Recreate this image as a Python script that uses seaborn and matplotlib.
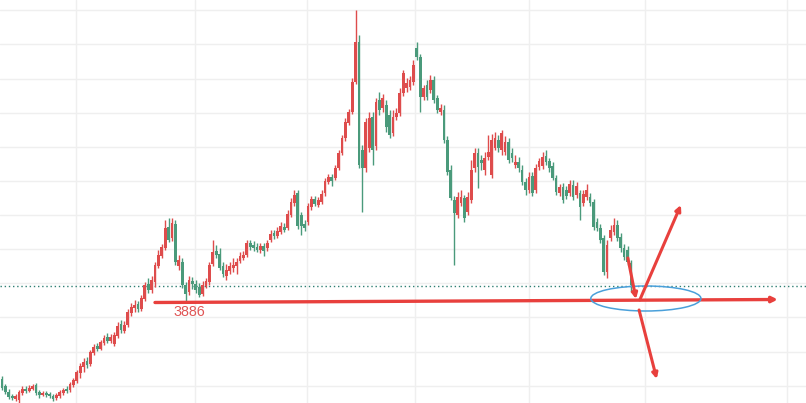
import numpy as np
import matplotlib
matplotlib.use("Agg")
import matplotlib.pyplot as plt
from matplotlib.patches import Ellipse
import seaborn as sns

# daily candles (red = up, green = down)
opens = [3652, 3631, 3613, 3601, 3592, 3589, 3610, 3622, 3616, 3622,
         3634, 3613, 3604, 3610, 3607, 3601, 3595, 3601, 3610, 3622,
         3619, 3634, 3646, 3670, 3688, 3706, 3697, 3730, 3751, 3742,
         3760, 3778, 3766, 3757, 3781, 3817, 3796, 3814, 3850, 3865,
         3877, 3862, 3892, 3937, 3919, 3943, 3991, 4021, 4045, 4108,
         4075, 4117, 3991, 4003, 3934, 3913, 3946, 3937, 3928, 3907,
         3931, 3943, 3997, 4036, 4027, 3991, 3961, 3976, 3985, 3991,
         4006, 4015, 4024, 4060, 4054, 4048, 4039, 4051, 4045, 4069,
         4090, 4081, 4093, 4108, 4105, 4144, 4180, 4210, 4144, 4117,
         4123, 4168, 4192, 4174, 4183, 4210, 4243, 4258, 4255, 4285,
         4330, 4375, 4420, 4453, 4543, 4663, 4339, 4285, 4345, 4438,
         4351, 4489, 4465, 4474, 4444, 4390, 4438, 4450, 4510, 4525,
         4528, 4543, 4645, 4618, 4498, 4534, 4519, 4549, 4495, 4453,
         4459, 4369, 4279, 4189, 4144, 4180, 4195, 4153, 4189, 4285,
         4330, 4309, 4279, 4318, 4264, 4345, 4369, 4339, 4333, 4363,
         4330, 4294, 4303, 4279, 4243, 4219, 4261, 4219, 4288, 4291,
         4321, 4306, 4291, 4255, 4210, 4228, 4219, 4210, 4234, 4204,
         4210, 4180, 4198, 4198, 4183, 4123, 4105, 4075, 3973, 4075,
         4093, 4114, 4078, 4045, 4039, 4000]
closes = [3625, 3613, 3598, 3595, 3601, 3613, 3622, 3616, 3625, 3631,
          3610, 3604, 3610, 3604, 3601, 3592, 3604, 3613, 3619, 3616,
          3637, 3649, 3673, 3691, 3703, 3694, 3733, 3748, 3742, 3763,
          3775, 3766, 3778, 3784, 3811, 3799, 3814, 3853, 3868, 3874,
          3862, 3895, 3934, 3919, 3949, 3994, 4024, 4048, 4105, 4069,
          4120, 4003, 4009, 3934, 3907, 3949, 3937, 3919, 3904, 3934,
          3946, 3994, 4033, 4024, 3985, 3967, 3979, 3991, 3994, 4003,
          4021, 4024, 4060, 4048, 4045, 4039, 4051, 4036, 4060, 4087,
          4081, 4096, 4111, 4099, 4147, 4183, 4204, 4111, 4111, 4105,
          4171, 4192, 4177, 4189, 4207, 4246, 4258, 4246, 4285, 4330,
          4375, 4423, 4453, 4543, 4663, 4294, 4285, 4423, 4435, 4339,
          4483, 4459, 4495, 4408, 4384, 4438, 4450, 4510, 4570, 4540,
          4549, 4594, 4618, 4498, 4525, 4498, 4549, 4489, 4459, 4465,
          4369, 4273, 4195, 4150, 4198, 4198, 4135, 4198, 4279, 4330,
          4288, 4300, 4315, 4333, 4369, 4375, 4345, 4390, 4363, 4309,
          4315, 4303, 4285, 4243, 4219, 4258, 4210, 4285, 4306, 4318,
          4303, 4285, 4255, 4213, 4228, 4189, 4201, 4237, 4198, 4231,
          4168, 4207, 4219, 4180, 4108, 4105, 4069, 3973, 4054, 4099,
          4114, 4075, 4045, 4018, 4003, 3934]
highs = [3661, 3637, 3622, 3607, 3607, 3619, 3631, 3631, 3634, 3637,
         3640, 3619, 3616, 3616, 3613, 3607, 3610, 3619, 3625, 3631,
         3643, 3655, 3679, 3700, 3715, 3718, 3739, 3757, 3760, 3769,
         3784, 3790, 3787, 3793, 3823, 3829, 3826, 3862, 3880, 3889,
         3886, 3904, 3943, 3955, 3961, 4003, 4039, 4057, 4129, 4135,
         4135, 4129, 4024, 4015, 3943, 3961, 3958, 3949, 3940, 3946,
         3955, 4003, 4069, 4054, 4045, 4003, 3997, 4003, 4015, 4015,
         4033, 4036, 4069, 4069, 4066, 4060, 4060, 4060, 4069, 4099,
         4099, 4108, 4123, 4120, 4159, 4195, 4219, 4219, 4153, 4129,
         4180, 4201, 4201, 4198, 4219, 4255, 4267, 4267, 4294, 4339,
         4384, 4435, 4462, 4555, 4759, 4684, 4354, 4435, 4453, 4453,
         4495, 4513, 4507, 4489, 4459, 4459, 4465, 4525, 4579, 4555,
         4561, 4609, 4663, 4627, 4534, 4549, 4564, 4561, 4504, 4477,
         4474, 4381, 4294, 4201, 4213, 4219, 4204, 4213, 4309, 4345,
         4345, 4324, 4333, 4384, 4387, 4393, 4384, 4399, 4381, 4375,
         4345, 4324, 4318, 4294, 4255, 4273, 4273, 4297, 4315, 4333,
         4339, 4315, 4303, 4264, 4237, 4240, 4231, 4249, 4249, 4243,
         4219, 4219, 4237, 4210, 4192, 4135, 4117, 4084, 4069, 4114,
         4135, 4129, 4090, 4057, 4051, 4009]
lows = [3619, 3607, 3592, 3589, 3586, 3580, 3604, 3610, 3613, 3619,
        3604, 3595, 3601, 3598, 3595, 3586, 3589, 3595, 3604, 3610,
        3613, 3628, 3640, 3655, 3673, 3685, 3691, 3724, 3736, 3739,
        3754, 3760, 3760, 3751, 3775, 3790, 3790, 3808, 3841, 3853,
        3853, 3856, 3886, 3910, 3910, 3928, 3985, 4015, 4039, 4063,
        4066, 3994, 3979, 3925, 3883, 3904, 3922, 3910, 3898, 3901,
        3925, 3934, 3991, 4015, 3979, 3958, 3949, 3967, 3973, 3967,
        4000, 4009, 4018, 4039, 4036, 4033, 4030, 4021, 4036, 4063,
        4072, 4075, 4087, 4093, 4099, 4138, 4171, 4102, 4084, 4096,
        4114, 4159, 4171, 4168, 4177, 4201, 4237, 4231, 4249, 4279,
        4324, 4366, 4414, 4447, 4537, 4285, 4153, 4273, 4333, 4294,
        4339, 4444, 4453, 4393, 4375, 4381, 4429, 4441, 4501, 4513,
        4519, 4534, 4609, 4453, 4489, 4489, 4510, 4480, 4450, 4444,
        4360, 4264, 4189, 3994, 4135, 4171, 4123, 4144, 4180, 4273,
        4225, 4279, 4264, 4309, 4255, 4339, 4333, 4324, 4324, 4300,
        4303, 4285, 4273, 4234, 4204, 4210, 4201, 4210, 4279, 4282,
        4294, 4273, 4249, 4204, 4201, 4180, 4192, 4201, 4189, 4195,
        4129, 4171, 4189, 4171, 4099, 4096, 4060, 3964, 3955, 4066,
        4084, 4066, 4033, 4009, 3994, 3913]

support_level = 3886
support_label = "3886"
last_price_line = 3930

RED = "#de4c4c"
GREEN = "#4a9a7b"
ARROW_RED = "#e8403d"

sns.set_theme(style="white")

fig = plt.figure(figsize=(8.06, 4.03), dpi=100)
ax = fig.add_axes([0, 0, 1, 1])

idx = np.arange(len(closes))
o = np.array(opens)
c = np.array(closes)
up = c >= o
colors = np.where(up, RED, GREEN)

# wicks and bodies
ax.vlines(idx, lows, highs, colors=colors, linewidth=1.0, zorder=3)
body_h = np.maximum(np.abs(c - o), 3)
ax.bar(idx, body_h, bottom=np.minimum(o, c), width=0.8, color=colors,
       linewidth=0, zorder=4)

# grid
ax.set_xlim(-0.59, 236.5)
ax.set_ylim(3580, 4789)
ax.set_yticks(4758.1 - 102.4 * np.arange(12))
ax.set_xticks([21.85, 56.85, 89.6, 121.6, 155.1, 189.1, 230.8])
ax.grid(True, color="#efefef", linewidth=1.0)
ax.tick_params(left=False, bottom=False, labelleft=False, labelbottom=False)
for s in ax.spines.values():
    s.set_visible(False)

# current price dotted line
ax.axhline(last_price_line, color="#2f7f73", linestyle=(0, (1, 2)),
           linewidth=1.0, zorder=2)

# support line with arrow
ax.annotate("", xy=(228.2, 3890.5), xytext=(45.0, 3881.5),
            arrowprops=dict(arrowstyle="-|>", color=ARROW_RED, lw=2.4,
                            mutation_scale=8, shrinkA=0, shrinkB=0), zorder=6)
ax.text(50.3, 3853, support_label, color="#e05555", fontsize=10.3,
        family="Liberation Sans", ha="left", va="center", zorder=6)

# ellipse around breakdown point
ax.add_patch(Ellipse((189.4, 3893.5), 32.4, 75, fill=False,
                     edgecolor="#4aa0da", linewidth=1.1, zorder=7))

# direction arrows
for (x0, y0), (x1, y1) in [((184.1, 4015), (186.5, 3892)),
                           ((187.6, 3889), (199.7, 4174)),
                           ((187.4, 3859), (192.6, 3652))]:
    ax.annotate("", xy=(x1, y1), xytext=(x0, y0),
                arrowprops=dict(arrowstyle="-|>", color=ARROW_RED, lw=2.2,
                                mutation_scale=8, shrinkA=0, shrinkB=0),
                zorder=8)

fig.savefig("out.png", dpi=100)
